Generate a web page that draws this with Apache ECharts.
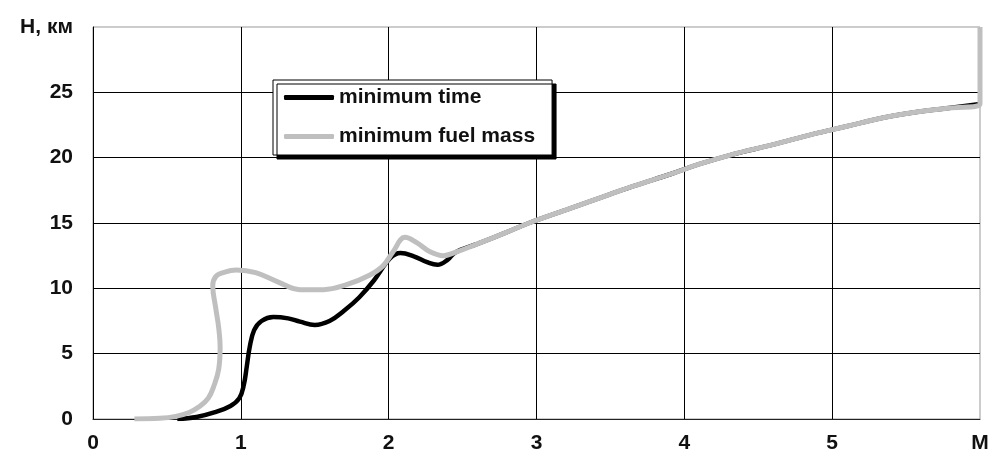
<!DOCTYPE html>
<html>
<head>
<meta charset="utf-8">
<script src="https://cdn.jsdelivr.net/npm/echarts@6/dist/echarts.min.js"></script>
<style>
  html, body { margin: 0; padding: 0; background: #fff; }
  #chart { width: 992px; height: 456px; }
</style>
</head>
<body>
<div id="chart"></div>
<script>
// minimum time trajectory (before it joins the common branch)
var timeM = [0.57, 0.70, 0.82, 0.93, 0.99, 1.02, 1.04, 1.06, 1.09, 1.14, 1.22, 1.32, 1.40, 1.50, 1.60, 1.70, 1.80, 1.90, 2.01, 2.08, 2.17, 2.26, 2.33, 2.40]
var timeH = [0, 0.15, 0.5, 1.0, 1.6, 2.6, 4.0, 5.5, 6.8, 7.5, 7.8, 7.7, 7.45, 7.2, 7.5, 8.3, 9.3, 10.6, 12.3, 12.7, 12.45, 12.0, 11.8, 12.2]
// minimum fuel mass trajectory (before the common branch)
var fuelM = [0.28, 0.45, 0.56, 0.65, 0.72, 0.78, 0.82, 0.85, 0.86, 0.85, 0.83, 0.81, 0.83, 0.88, 0.97, 1.10, 1.25, 1.40, 1.56, 1.72, 1.87, 1.96, 2.03, 2.11, 2.19, 2.28, 2.37]
var fuelH = [0, 0.05, 0.2, 0.5, 0.95, 1.6, 2.6, 3.8, 5.5, 7.0, 8.5, 10.2, 10.9, 11.2, 11.4, 11.2, 10.5, 9.9, 9.9, 10.3, 11.0, 11.7, 12.8, 13.9, 13.5, 12.8, 12.5]
// shared branch
var commonM = [2.45, 2.6, 2.8, 2.95, 3.2, 3.41, 3.65, 3.91, 4.1, 4.31, 4.6, 4.87, 5.1, 5.32, 5.55, 5.79, 6.0]
var commonH = [12.75, 13.4, 14.3, 15.0, 16.0, 16.85, 17.8, 18.75, 19.5, 20.2, 21.0, 21.8, 22.4, 23.0, 23.45, 23.8, 24.1]
var fuelTailM = [6.0]
var fuelTailH = [30]

var xTicks = { 0: '0', 1: '1', 2: '2', 3: '3', 4: '4', 5: '5', 6: 'M' }
var yTicks = { 0: '0', 5: '5', 10: '10', 15: '15', 20: '20', 25: '25', 30: 'H, км' }

function pairs(ms, hs) {
  return ms.map(function (m, i) { return [m, hs[i]] })
}

var timeData = pairs(timeM.concat(commonM), timeH.concat(commonH))
var fuelData = pairs(fuelM.concat(commonM, fuelTailM), fuelH.concat(commonH, fuelTailH))

var chart = echarts.init(document.getElementById('chart'))
var labelFont = {
  color: '#111',
  fontFamily: 'Liberation Sans, Arial, sans-serif',
  fontWeight: 'bold',
  fontSize: 21
}

chart.setOption({
  animation: false,
  grid: {
    left: 93,
    right: 12,
    top: 27,
    bottom: 37,
    show: true,
    borderColor: '#999',
    borderWidth: 1
  },
  legend: {
    orient: 'vertical',
    left: 273,
    top: 80,
    icon: 'roundRect',
    itemWidth: 50,
    itemHeight: 5,
    itemGap: 18,
    padding: [7, 17, 8, 11],
    backgroundColor: '#fff',
    borderColor: '#000',
    borderWidth: 1,
    shadowColor: '#000',
    shadowBlur: 0,
    shadowOffsetX: 4,
    shadowOffsetY: 4,
    textStyle: labelFont,
    data: ['minimum time', 'minimum fuel mass']
  },
  xAxis: {
    type: 'value',
    min: 0,
    max: 6,
    interval: 1,
    axisLine: { lineStyle: { color: '#222', width: 1 } },
    axisTick: { show: false },
    splitLine: { showMaxLine: false, lineStyle: { color: '#000', width: 1 } },
    axisLabel: Object.assign({
      margin: 14,
      formatter: function (v) { return xTicks[v] }
    }, labelFont)
  },
  yAxis: {
    type: 'value',
    min: 0,
    max: 30,
    interval: 5,
    axisLine: { show: true, lineStyle: { color: '#000', width: 1 } },
    axisTick: { show: false },
    splitLine: { showMaxLine: false, lineStyle: { color: '#000', width: 1 } },
    axisLabel: Object.assign({
      margin: 20,
      formatter: function (v) { return yTicks[v] }
    }, labelFont)
  },
  series: [
    {
      name: 'minimum time',
      type: 'line',
      data: timeData,
      smooth: 0.4,
      symbol: 'none',
      itemStyle: { color: '#000' },
      lineStyle: { color: '#000', width: 4.5 }
    },
    {
      name: 'minimum fuel mass',
      type: 'line',
      data: fuelData,
      smooth: 0.4,
      symbol: 'none',
      itemStyle: { color: '#bfbfbf' },
      lineStyle: { color: '#bfbfbf', width: 5 }
    }
  ]
})
</script>
</body>
</html>
